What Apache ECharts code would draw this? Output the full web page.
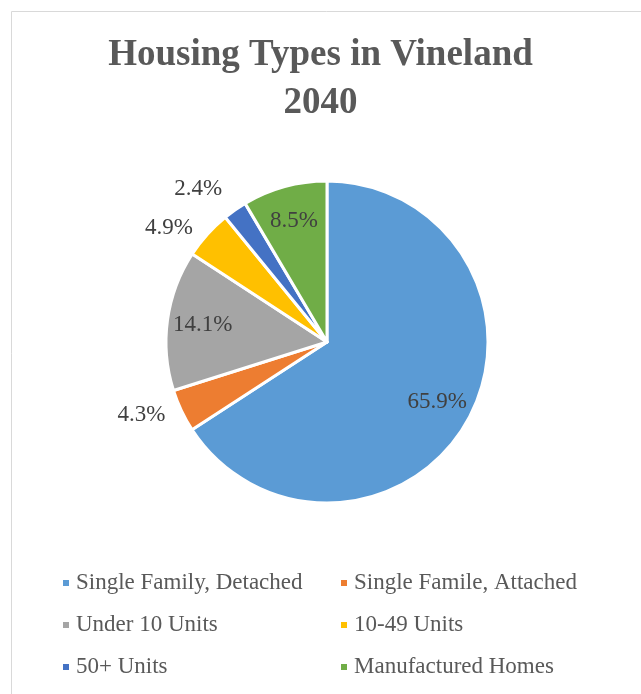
<!DOCTYPE html>
<html>
<head>
<meta charset="utf-8">
<script src="https://cdn.jsdelivr.net/npm/echarts@6/dist/echarts.min.js"></script>
<style>
  html, body { margin: 0; padding: 0; background: #fff; }
  #main { width: 641px; height: 694px; }
</style>
</head>
<body>
<div id="main"></div>
<script>
// housing types, share of units (%)
const categories = ['Single Family, Detached', 'Single Famile, Attached', 'Under 10 Units', '10-49 Units', '50+ Units', 'Manufactured Homes']
const shares = [65.9, 4.3, 14.1, 4.9, 2.4, 8.5]
const colors = ['#5B9BD5', '#ED7D31', '#A5A5A5', '#FFC000', '#4472C4', '#70AD47']
// which labels Excel put inside the slice
const insideLabel = [true, false, true, false, false, true]

const FONT = '"Liberation Serif", serif'
const CENTER = [327, 342]
const R = 161

const myChart = echarts.init(document.getElementById('main'))

const fmt = p => p.value.toFixed(1) + '%'

const legendText = { fontFamily: FONT, fontSize: 23, lineHeight: 24, color: '#595959', padding: [0, 0, 0, 1] }

myChart.setOption({
  animation: false,
  color: colors,
  graphic: [{
    type: 'rect',
    shape: { x: 11.5, y: 11.5, width: 700, height: 700 },
    style: { fill: 'none', stroke: '#d9d9d9', lineWidth: 1 },
    silent: true
  }],
  title: {
    text: 'Housing Types in Vineland\n2040',
    left: 'center',
    top: 26,
    textStyle: {
      fontFamily: FONT,
      fontSize: 37,
      fontWeight: 'bold',
      color: '#595959',
      lineHeight: 48
    }
  },
  legend: [
    {
      orient: 'vertical',
      left: 56,
      top: 566,
      itemGap: 18,
      itemWidth: 8,
      itemHeight: 8,
      icon: 'rect',
      data: [categories[0], categories[2], categories[4]],
      textStyle: legendText
    },
    {
      orient: 'vertical',
      left: 334,
      top: 566,
      itemGap: 18,
      itemWidth: 8,
      itemHeight: 8,
      icon: 'rect',
      data: [categories[1], categories[3], categories[5]],
      textStyle: legendText
    }
  ],
  series: [
    {
      // the pie itself, outside labels for the thin slices
      type: 'pie',
      center: CENTER,
      radius: [0, R],
      startAngle: 90,
      clockwise: true,
      avoidLabelOverlap: false,
      itemStyle: { borderColor: '#fff', borderWidth: 3 },
      labelLine: { show: false, length: 10, length2: 2 },
      label: {
        position: 'outside',
        formatter: fmt,
        fontFamily: FONT,
        fontSize: 23,
        color: '#404040'
      },
      data: categories.map((name, i) => ({
        name: name,
        value: shares[i],
        label: i === 4 ? { show: true, offset: [0, -13] } : { show: !insideLabel[i] }
      }))
    },
    {
      // transparent copy, only so the inside labels sit further out
      type: 'pie',
      center: CENTER,
      radius: [R * 0.52, R],
      startAngle: 90,
      clockwise: true,
      silent: true,
      legendHoverLink: false,
      itemStyle: { color: 'transparent', borderWidth: 0 },
      labelLine: { show: false },
      label: {
        position: 'inside',
        formatter: fmt,
        fontFamily: FONT,
        fontSize: 23,
        color: '#404040'
      },
      data: categories.map((name, i) => ({
        name: name,
        value: shares[i],
        label: { show: insideLabel[i] }
      }))
    }
  ]
})
</script>
</body>
</html>
